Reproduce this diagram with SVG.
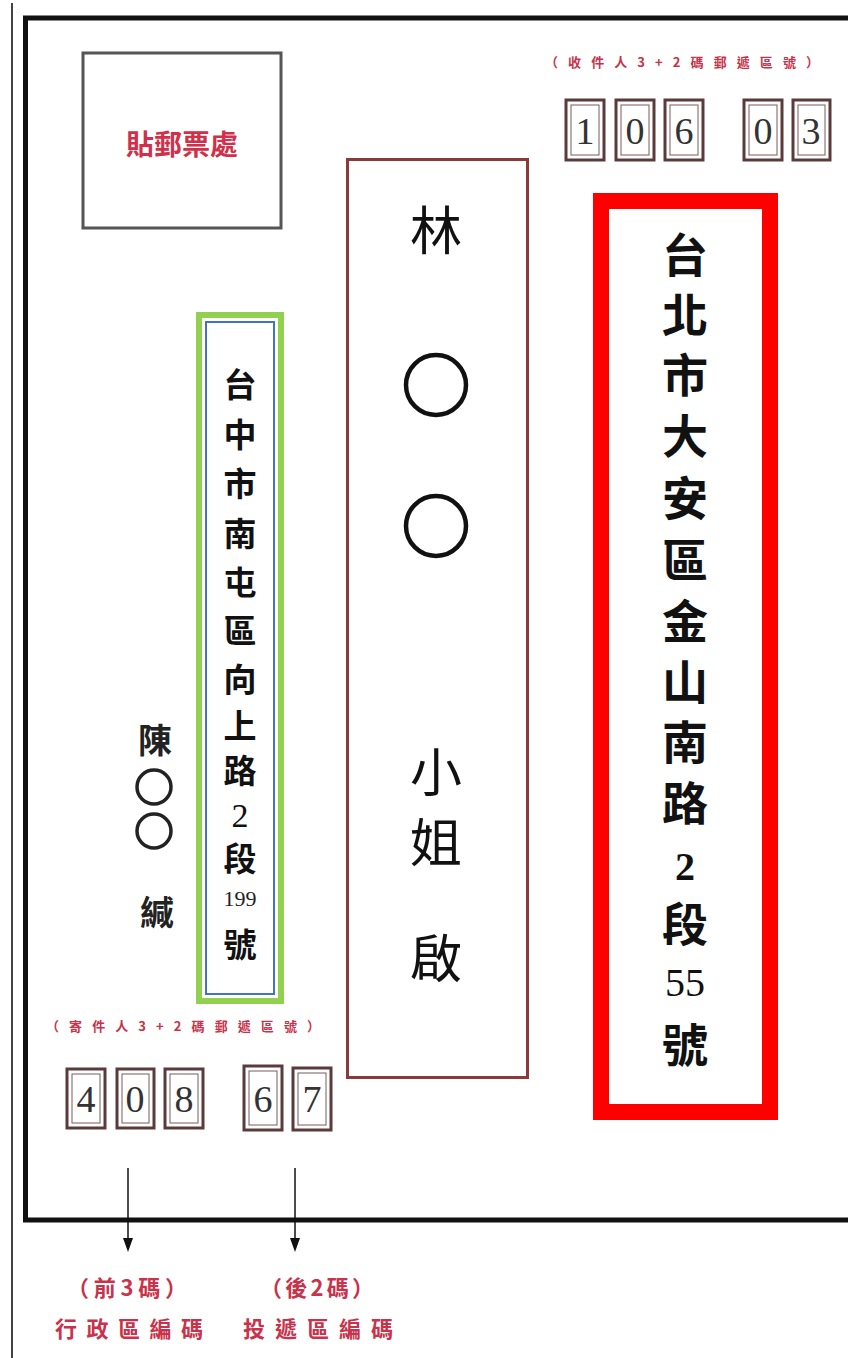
<svg xmlns="http://www.w3.org/2000/svg" width="848" height="1358" viewBox="0 0 848 1358">
<style>
.cj{font-family:"Noto Sans CJK TC","Noto Sans CJK SC",sans-serif;text-anchor:middle}
.big{font-size:52px;fill:#111}
.red{font-size:46px;fill:#111;font-weight:bold}
.grn{font-size:33px;fill:#111;font-weight:bold}
.snd{font-size:34px;fill:#222;font-weight:bold}
.lbl{font-size:13px;fill:#c8324a;font-weight:bold}
.lbl2{font-size:22px;fill:#c8324a;font-weight:bold}
.dig{font-family:"Liberation Serif",serif;font-size:38px;fill:#333;text-anchor:middle}
.box{fill:#fff;stroke:#5a3a3a;stroke-width:3}
.ibox{fill:none;stroke:#7a5a5a;stroke-width:1}
.arr{fill:#111}
</style>
<rect width="848" height="1358" fill="#fff"/>
<g id="envelope">
<line x1="12" y1="3" x2="12" y2="1358" stroke="#444" stroke-width="2"/>
<path d="M852,18 L25.5,18 L25.5,1220 L852,1220" fill="none" stroke="#111" stroke-width="5"/>
</g>
<g id="stamp">
<rect x="83" y="53" width="198" height="175" fill="#fff" stroke="#555" stroke-width="3"/>
<text class="cj" x="182" y="155" font-size="28" font-weight="bold" fill="#d0304a">貼郵票處</text>
</g>
<g id="recipient-zip">
<text class="cj lbl" x="682" y="67" textLength="274" lengthAdjust="spacing">（收件人3+2碼郵遞區號）</text>
<rect class="box" x="566" y="100" width="38" height="60"/><rect class="ibox" x="571" y="105" width="28" height="50"/><text class="dig" x="585" y="144">1</text>
<rect class="box" x="616" y="100" width="38" height="60"/><rect class="ibox" x="621" y="105" width="28" height="50"/><text class="dig" x="635" y="144">0</text>
<rect class="box" x="665" y="100" width="38" height="60"/><rect class="ibox" x="670" y="105" width="28" height="50"/><text class="dig" x="684" y="144">6</text>
<rect class="box" x="744" y="100" width="38" height="60"/><rect class="ibox" x="749" y="105" width="28" height="50"/><text class="dig" x="763" y="144">0</text>
<rect class="box" x="793" y="100" width="37" height="60"/><rect class="ibox" x="798" y="105" width="27" height="50"/><text class="dig" x="811" y="144">3</text>
</g>
<g id="recipient-name">
<rect x="347.5" y="159.5" width="180" height="918" fill="#fff" stroke="#8a3a3a" stroke-width="3"/>
<text class="cj big" x="436" y="250">林</text>
<circle cx="436" cy="385" r="30" fill="none" stroke="#111" stroke-width="4.5"/>
<circle cx="436" cy="526" r="30" fill="none" stroke="#111" stroke-width="4.5"/>
<text class="cj big" x="436" y="792">小</text>
<text class="cj big" x="436" y="862">姐</text>
<text class="cj big" x="436" y="978">啟</text>
</g>
<g id="recipient-address">
<rect x="601" y="201" width="169" height="911" fill="#fff" stroke="#ff0000" stroke-width="16"/>
<text class="cj red" x="685" y="272">台</text>
<text class="cj red" x="685" y="332">北</text>
<text class="cj red" x="685" y="392">市</text>
<text class="cj red" x="685" y="453">大</text>
<text class="cj red" x="685" y="515">安</text>
<text class="cj red" x="685" y="577">區</text>
<text class="cj red" x="685" y="638">金</text>
<text class="cj red" x="685" y="699">山</text>
<text class="cj red" x="685" y="759">南</text>
<text class="cj red" x="685" y="820">路</text>
<text x="685" y="880" font-family="Liberation Serif,serif" font-size="40" font-weight="bold" fill="#111" text-anchor="middle">2</text>
<text class="cj red" x="685" y="941">段</text>
<text x="685" y="996" font-family="Liberation Serif,serif" font-size="40" fill="#111" text-anchor="middle">55</text>
<text class="cj red" x="685" y="1062">號</text>
</g>
<g id="sender-address">
<rect x="199" y="315" width="82" height="686" fill="none" stroke="#92d050" stroke-width="6"/>
<rect x="206" y="322" width="68" height="672" fill="#fff" stroke="#4472c4" stroke-width="2"/>
<text class="cj grn" x="240" y="397">台</text>
<text class="cj grn" x="240" y="447">中</text>
<text class="cj grn" x="240" y="496">市</text>
<text class="cj grn" x="240" y="546">南</text>
<text class="cj grn" x="240" y="595">屯</text>
<text class="cj grn" x="240" y="643">區</text>
<text class="cj grn" x="240" y="692">向</text>
<text class="cj grn" x="240" y="738">上</text>
<text class="cj grn" x="240" y="783">路</text>
<text x="240" y="827" font-family="Liberation Serif,serif" font-size="34" fill="#111" text-anchor="middle">2</text>
<text class="cj grn" x="240" y="871">段</text>
<text x="240" y="906" font-family="Liberation Serif,serif" font-size="22" fill="#222" text-anchor="middle">199</text>
<text class="cj grn" x="240" y="957">號</text>
</g>
<g id="sender-name">
<text class="cj snd" x="155" y="753">陳</text>
<circle cx="154" cy="787" r="17" fill="none" stroke="#222" stroke-width="3.5"/>
<circle cx="154" cy="831" r="17" fill="none" stroke="#222" stroke-width="3.5"/>
<text class="cj snd" x="157" y="925">緘</text>
</g>
<g id="sender-zip">
<text class="cj lbl" x="183" y="1031" textLength="274" lengthAdjust="spacing">（寄件人3+2碼郵遞區號）</text>
<rect class="box" x="67" y="1069" width="38" height="59"/><rect class="ibox" x="72" y="1074" width="28" height="49"/><text class="dig" x="86" y="1112">4</text>
<rect class="box" x="117" y="1069" width="37" height="59"/><rect class="ibox" x="122" y="1074" width="27" height="49"/><text class="dig" x="135" y="1112">0</text>
<rect class="box" x="165" y="1069" width="38" height="59"/><rect class="ibox" x="170" y="1074" width="28" height="49"/><text class="dig" x="184" y="1112">8</text>
<rect class="box" x="244" y="1066" width="38" height="64"/><rect class="ibox" x="249" y="1071" width="28" height="54"/><text class="dig" x="263" y="1112">6</text>
<rect class="box" x="293" y="1068" width="38" height="62"/><rect class="ibox" x="298" y="1073" width="28" height="52"/><text class="dig" x="312" y="1112">7</text>
</g>
<g id="connectors">
<line x1="128" y1="1168" x2="128" y2="1240" stroke="#111" stroke-width="1.5"/>
<polygon class="arr" points="123,1238 133,1238 128,1252"/>
<line x1="295" y1="1168" x2="295" y2="1240" stroke="#111" stroke-width="1.5"/>
<polygon class="arr" points="290,1238 300,1238 295,1252"/>
</g>
<g id="label-front">
<text class="cj lbl2" x="127" y="1296" font-size="20" textLength="120" lengthAdjust="spacing">（前3碼）</text>
<text class="cj lbl2" x="129" y="1337" textLength="148" lengthAdjust="spacing">行政區編碼</text>
</g>
<g id="label-back">
<text class="cj lbl2" x="317" y="1296" font-size="20" textLength="114" lengthAdjust="spacing">（後2碼）</text>
<text class="cj lbl2" x="318" y="1337" textLength="150" lengthAdjust="spacing">投遞區編碼</text>
</g>
</svg>
